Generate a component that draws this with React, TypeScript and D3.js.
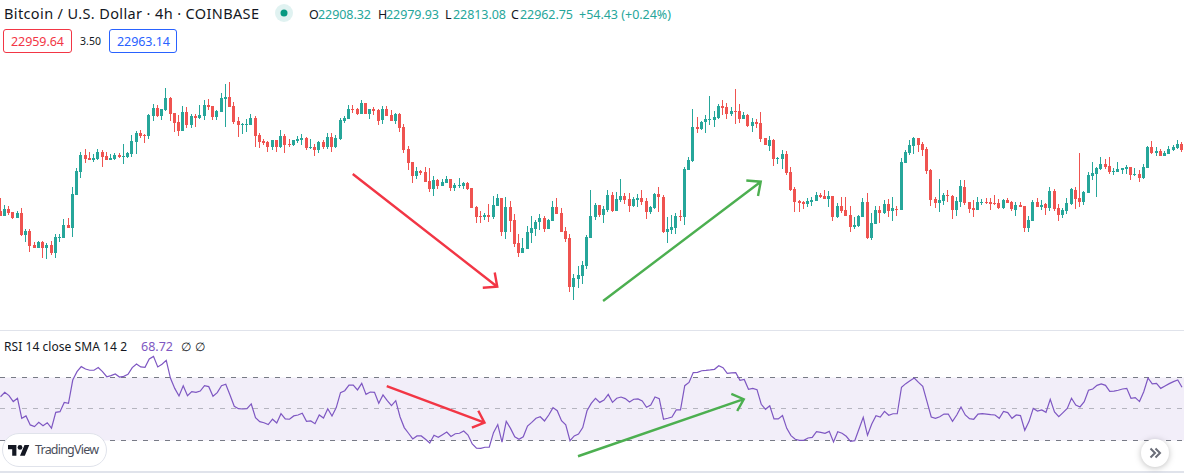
import React, { useEffect, useRef } from 'react';
import * as d3 from 'd3';

const opens = [
  89,84,91,88,82,87,65,69,55,52,58,52,55,47,62,62,75,72,105,128,
  145,142,140,141,148,144,140,141,145,143,143,146,158,167,165,164,184,192,184,190,
  202,187,178,169,188,175,184,182,184,195,194,183,188,201,203,194,179,175,175,175,
  182,165,159,158,153,160,153,164,156,155,159,160,162,152,153,150,158,153,163,153,
  161,179,181,191,191,186,197,186,191,190,180,191,185,179,186,173,151,138,124,129,
  128,119,111,120,114,117,121,112,114,114,117,112,93,84,83,85,83,94,102,68,
  93,80,57,47,51,67,71,78,82,71,79,93,87,69,62,13,21,24,34,62,
  83,95,85,90,105,89,100,104,101,94,100,102,99,88,92,106,103,68,70,72,
  84,83,130,139,173,171,178,180,180,182,194,193,186,189,189,181,185,174,178,177,
  162,154,160,141,141,146,128,111,99,98,96,98,99,105,104,101,104,83,94,90,
  85,73,74,83,98,62,76,90,87,96,89,91,90,137,147,154,162,156,151,130,
  101,97,99,105,104,90,98,113,98,92,90,97,98,98,97,97,92,100,98,90,
  95,94,72,79,98,93,96,92,109,92,85,89,96,110,102,98,107,124,126,131,
  136,134,128,128,130,131,133,125,126,122,132,153,147,149,144,146,150,152,156,
];
const highs = [
  102,95,94,88,89,92,71,71,58,59,59,57,59,66,66,81,82,113,132,148,
  151,148,146,151,150,148,146,147,147,156,148,165,169,170,166,186,196,195,191,212,
  203,187,185,194,193,186,186,195,200,201,194,190,207,216,218,198,183,177,181,186,
  184,167,161,159,160,160,170,166,161,160,164,166,163,161,156,159,160,167,167,165,
  182,184,195,195,192,200,197,191,193,191,194,194,190,187,187,176,154,138,133,130,
  133,132,124,121,121,124,121,117,122,118,118,112,94,89,87,96,104,106,102,103,
  99,86,66,62,74,84,80,86,84,81,99,102,92,73,66,26,34,39,65,110,
  97,95,94,110,108,108,121,107,107,103,106,110,102,94,107,113,105,83,85,87,
  90,133,143,191,183,179,185,204,189,196,200,197,193,211,196,188,186,182,181,188,
  162,164,161,143,150,149,133,113,100,99,102,103,108,107,110,109,104,97,103,103,
  94,83,85,102,107,87,94,94,100,101,103,94,142,150,160,163,162,158,153,131,
  103,121,107,110,105,103,120,120,98,100,103,101,102,102,105,101,101,102,99,98,
  98,94,84,100,102,100,97,113,111,96,92,102,112,113,147,109,128,138,133,143,
  141,143,132,138,132,135,133,132,130,136,154,159,153,151,149,154,155,160,158,
];
const lows = [
  84,84,85,81,82,64,58,48,52,52,42,41,45,42,58,62,72,63,105,122,
  137,140,138,140,133,140,140,140,142,136,142,143,146,162,157,161,179,183,180,189,
  179,168,164,169,172,172,173,181,180,190,180,180,188,173,193,176,163,166,168,175,
  153,152,155,148,150,148,152,147,153,154,157,155,150,151,144,147,151,151,148,152,
  160,177,181,187,185,186,186,181,185,175,176,184,179,176,168,147,130,117,121,125,
  118,108,104,111,114,117,109,109,112,111,110,92,77,77,80,78,81,94,64,61,
  68,53,43,47,51,57,64,70,68,71,79,86,68,58,8,0,12,16,31,62,
  80,83,77,88,88,89,98,96,88,93,93,95,81,86,91,88,67,57,66,66,
  79,75,130,138,167,170,167,175,173,181,185,181,184,176,177,181,173,168,172,158,
  155,149,134,136,131,125,109,88,88,91,93,94,99,102,101,93,79,82,87,84,
  68,71,73,83,61,60,76,77,86,83,79,84,90,137,145,146,148,144,126,94,
  92,88,95,98,81,84,93,95,87,83,90,95,96,90,95,91,91,97,89,84,
  93,68,68,79,93,90,85,89,89,79,82,86,95,91,93,95,107,120,103,130,
  131,126,125,128,126,126,120,124,118,121,132,146,144,144,144,146,149,151,148,
];
const closes = [
  84,91,87,82,87,65,69,54,52,58,52,55,47,63,63,75,72,106,129,145,
  141,140,142,148,143,140,142,145,143,144,147,159,167,164,164,185,192,184,191,202,
  186,177,169,188,175,184,182,185,195,193,183,189,202,203,193,178,175,176,176,182,
  164,158,157,153,160,153,164,155,155,160,161,162,152,153,150,158,153,163,153,162,
  180,182,191,190,186,197,186,191,189,179,191,184,179,186,172,150,137,124,129,127,
  118,111,120,114,118,121,112,115,115,117,111,92,83,83,85,83,95,102,68,93,
  79,56,47,52,68,72,78,82,71,80,93,86,68,61,13,22,25,35,63,84,
  95,85,91,105,89,101,104,100,94,101,102,98,88,93,106,103,68,71,73,84,
  83,131,140,173,171,178,181,181,183,194,192,186,189,188,181,185,174,178,176,161,
  155,160,141,142,146,127,110,98,97,96,99,100,105,103,101,104,83,94,89,84,
  73,75,84,98,62,77,90,87,96,89,92,90,138,148,155,162,155,150,129,100,
  97,100,105,104,90,99,114,97,91,90,98,98,97,96,96,92,100,97,91,95,
  93,72,80,98,93,95,92,109,91,85,90,97,111,101,98,108,125,127,132,136,
  133,128,129,131,132,133,125,126,122,133,153,147,149,144,147,151,153,156,150,
];
const rsiValues = [
  57.8,60.6,58.5,54.7,56.8,44.1,45.6,39.9,38.8,41.5,39.4,41.3,37.8,47.9,48.3,54.2,53.6,68.4,73.7,76.9,
  75.4,74.6,74.6,76.3,73.7,70.5,71.2,72.2,70.3,70.7,72.0,76.3,78.6,76.7,76.5,81.8,83.4,76.7,78.4,80.9,
  69.5,63.1,58.3,64.8,58.5,61.0,60.6,61.4,64.8,64.2,58.1,60.4,64.8,65.7,58.9,51.7,50.2,50.0,50.2,53.2,
  44.5,42.0,41.3,40.1,43.5,41.1,47.0,43.7,43.5,45.6,46.2,47.3,42.2,42.4,40.7,46.2,44.3,50.2,45.6,50.9,
  60.4,61.6,65.2,65.2,62.1,66.3,59.3,60.8,60.6,53.6,58.9,55.3,52.1,55.3,45.1,38.2,34.6,31.0,32.9,32.9,
  30.8,28.4,33.3,32.0,33.7,35.4,32.6,34.3,34.6,36.0,33.5,27.8,25.2,25.0,25.7,25.7,35.0,40.1,28.9,42.2,
  37.7,32.4,30.8,32.4,39.2,41.5,44.1,45.1,42.4,46.2,50.9,48.9,42.6,39.9,29.9,32.9,34.1,38.2,48.9,53.6,
  56.8,54.2,55.7,59.3,54.2,56.8,57.6,56.6,54.5,56.2,56.4,55.1,51.1,52.5,57.6,56.6,43.5,44.1,44.9,49.4,
  49.4,64.8,66.9,73.1,73.3,74.3,74.5,74.8,75.2,77.5,76.2,72.6,72.9,73.1,68.2,68.8,62.5,63.1,62.3,53.0,
  49.8,52.1,43.7,43.7,45.8,37.7,33.1,30.8,30.1,30.1,31.6,32.0,35.6,35.2,34.6,35.8,29.1,35.6,34.6,32.7,
  29.5,29.9,37.3,44.7,33.3,40.5,45.8,44.9,48.5,46.0,47.0,47.0,63.8,66.1,68.0,69.7,66.9,64.4,54.7,44.9,
  44.1,45.1,46.8,46.8,42.2,46.2,51.3,46.2,43.9,43.5,46.8,47.0,46.8,46.4,46.2,44.1,48.5,47.7,44.1,46.2,
  45.8,36.5,42.0,50.4,48.7,49.4,47.9,56.1,48.1,45.1,47.7,50.4,56.8,52.5,51.3,54.7,61.9,62.7,65.0,65.9,
  65.0,61.2,61.4,61.9,62.7,63.1,56.8,57.2,54.7,61.0,69.7,65.9,66.3,63.1,64.6,66.1,67.4,68.4,63.8,
];

const rsiLevels = [70, 50, 30];

// Trend arrows, as [bar, level] pairs
const priceDownArrow = [[83, 126], [117, 13.3]];
const priceUpArrow = [[141.9, -1], [179, 118.3]];
const rsiDownArrow = [[91, 64.6], [114, 41.3]];
const rsiUpArrow = [[136, 20], [175, 56.2]];

const UP = '#26a69a';
const DOWN = '#ef5350';
const PURPLE = '#7e57c2';
const TEXT = '#131722';
const FONT = '"Noto Sans", sans-serif';

const App: React.FC = () => {
  const svgRef = useRef<SVGSVGElement>(null);

  useEffect(() => {
    if (!svgRef.current) return;
    const svg = d3.select(svgRef.current);
    svg.selectAll('*').remove();

    const bars = d3.range(opens.length);
    const x = d3.scaleLinear().domain([0, bars.length - 1]).range([0, 1181.5]);
    const y = d3.scaleLinear().domain([0, 300]).range([300, 0]);
    const yRsi = d3.scaleLinear().domain([30, 70]).range([440.5, 377.5]);
    const px = (i: number) => Math.floor(x(i));

    // Pane borders
    svg.append('g')
      .selectAll('rect')
      .data([330, 471])
      .join('rect')
      .attr('x', 0)
      .attr('y', d => d)
      .attr('width', 1184)
      .attr('height', d => (d === 330 ? 1 : 2))
      .attr('fill', '#e0e3eb');

    // Candles
    const candles = svg.append('g').attr('shape-rendering', 'crispEdges');
    candles.selectAll('.wick')
      .data(bars)
      .join('rect')
      .attr('class', 'wick')
      .attr('x', d => px(d))
      .attr('y', d => y(highs[d]))
      .attr('width', 1)
      .attr('height', d => y(lows[d]) - y(highs[d]))
      .attr('fill', d => (closes[d] >= opens[d] ? UP : DOWN));
    candles.selectAll('.body')
      .data(bars)
      .join('rect')
      .attr('class', 'body')
      .attr('x', d => px(d) - 1)
      .attr('y', d => y(Math.max(opens[d], closes[d])))
      .attr('width', 3)
      .attr('height', d => Math.max(1, Math.abs(y(opens[d]) - y(closes[d]))))
      .attr('fill', d => (closes[d] >= opens[d] ? UP : DOWN));

    // RSI band
    svg.append('rect')
      .attr('x', 0)
      .attr('y', yRsi(70))
      .attr('width', 1184)
      .attr('height', yRsi(30) - yRsi(70))
      .attr('fill', PURPLE)
      .attr('fill-opacity', 0.1);
    svg.append('g')
      .selectAll('line')
      .data(rsiLevels)
      .join('line')
      .attr('x1', 0)
      .attr('x2', 1184)
      .attr('y1', d => Math.ceil(yRsi(d)) - 0.5)
      .attr('y2', d => Math.ceil(yRsi(d)) - 0.5)
      .attr('stroke', '#787b86')
      .attr('stroke-opacity', d => (d === 50 ? 0.5 : 1))
      .attr('stroke-dasharray', '5 6');

    const line = d3.line<number>()
      .x(d => x(d) + 0.5)
      .y(d => yRsi(rsiValues[d]));
    svg.append('path')
      .attr('d', line(bars))
      .attr('fill', 'none')
      .attr('stroke', PURPLE)
      .attr('stroke-width', 1.2);

    // Arrows
    const arrow = (pts: number[][], scaleY: (v: number) => number, color: string, head: number) => {
      const [a, b] = pts;
      const x1 = x(a[0]), y1 = scaleY(a[1]), x2 = x(b[0]), y2 = scaleY(b[1]);
      const angle = Math.atan2(y2 - y1, x2 - x1);
      const wing = (sign: number) => {
        const t = angle + Math.PI + sign * (42 * Math.PI / 180);
        return [x2 + head * Math.cos(t), y2 + head * Math.sin(t)] as [number, number];
      };
      const path = d3.path();
      path.moveTo(x1, y1);
      path.lineTo(x2, y2);
      path.moveTo(...wing(1));
      path.lineTo(x2, y2);
      path.lineTo(...wing(-1));
      svg.append('path')
        .attr('d', path.toString())
        .attr('fill', 'none')
        .attr('stroke', color)
        .attr('stroke-width', 2.4);
    };
    arrow(priceDownArrow, y, '#f23645', 14.5);
    arrow(priceUpArrow, y, '#4caf50', 14.5);
    arrow(rsiDownArrow, yRsi, '#f23645', 13.5);
    arrow(rsiUpArrow, yRsi, '#4caf50', 13.5);

    const label = (text: string, tx: number, ty: number, size: number, fill: string, width?: number) => {
      const t = svg.append('text')
        .attr('x', tx)
        .attr('y', ty)
        .attr('font-family', FONT)
        .attr('font-size', size)
        .attr('fill', fill)
        .text(text);
      if (width) t.attr('textLength', width).attr('lengthAdjust', 'spacing');
      return t;
    };

    // Header
    label('Bitcoin / U.S. Dollar · 4h · COINBASE', 4, 19, 14.5, TEXT, 255);
    svg.append('circle').attr('cx', 284).attr('cy', 13).attr('r', 9).attr('fill', UP).attr('fill-opacity', 0.14);
    svg.append('circle').attr('cx', 284).attr('cy', 13).attr('r', 3.5).attr('fill', '#089981');
    label('O', 309, 19, 12.5, TEXT, 9);
    label('22908.32', 318, 19, 12.5, UP, 53);
    label('H', 378, 19, 12.5, TEXT, 9);
    label('22979.93', 386, 19, 12.5, UP, 53);
    label('L', 445, 19, 12.5, TEXT, 7);
    label('22813.08', 453, 19, 12.5, UP, 53);
    label('C', 511, 19, 12.5, TEXT, 9);
    label('22962.75', 520, 19, 12.5, UP, 53);
    label('+54.43 (+0.24%)', 579, 19, 12.5, UP, 92);

    // Price chips
    svg.append('rect').attr('x', 3.5).attr('y', 29.5).attr('width', 68).attr('height', 23).attr('rx', 2.5)
      .attr('fill', 'white').attr('stroke', '#f23645');
    label('22959.64', 11, 46, 12.5, '#f23645', 53);
    label('3.50', 80, 45, 10.5, TEXT, 21);
    svg.append('rect').attr('x', 109.5).attr('y', 29.5).attr('width', 67).attr('height', 23).attr('rx', 2.5)
      .attr('fill', 'white').attr('stroke', '#2962ff');
    label('22963.14', 117, 46, 12.5, '#2962ff', 53);

    // RSI legend
    label('RSI 14 close SMA 14 2', 4, 351, 12, TEXT, 123);
    label('68.72', 141, 351, 12.5, PURPLE, 32);
    label('∅', 181, 351, 12, TEXT);
    label('∅', 195, 351, 12, TEXT);

    // TradingView badge
    svg.append('rect').attr('x', 2.5).attr('y', 433.5).attr('width', 104).attr('height', 33).attr('rx', 16.5)
      .attr('fill', 'white').attr('stroke', '#e0e3eb');
    const logo = svg.append('g').attr('transform', 'translate(8,442.6) scale(0.6)').attr('fill', TEXT);
    logo.append('path').attr('d', 'M14 22H7V11H0V4h14v18zM28 22h-8l7.5-18h8L28 22z');
    logo.append('circle').attr('cx', 20).attr('cy', 8).attr('r', 4);
    label('TradingView', 35, 454, 12.5, '#4a4e5a', 64);

    // Scroll button
    svg.append('circle').attr('cx', 1155).attr('cy', 453).attr('r', 14).attr('fill', 'white')
      .style('filter', 'drop-shadow(0 1px 3px rgba(0,0,0,0.25))');
    const chevrons = d3.path();
    [1150.5, 1155.5].forEach(cx => {
      chevrons.moveTo(cx, 448.5);
      chevrons.lineTo(cx + 4.5, 453);
      chevrons.lineTo(cx, 457.5);
    });
    svg.append('path').attr('d', chevrons.toString()).attr('fill', 'none')
      .attr('stroke', '#6a6d78').attr('stroke-width', 2);
  }, []);

  return (
    <svg
      ref={svgRef}
      width={1184}
      height={473}
      style={{ position: 'absolute', left: 0, top: 0, background: 'white' }}
    />
  );
};

export default App;
